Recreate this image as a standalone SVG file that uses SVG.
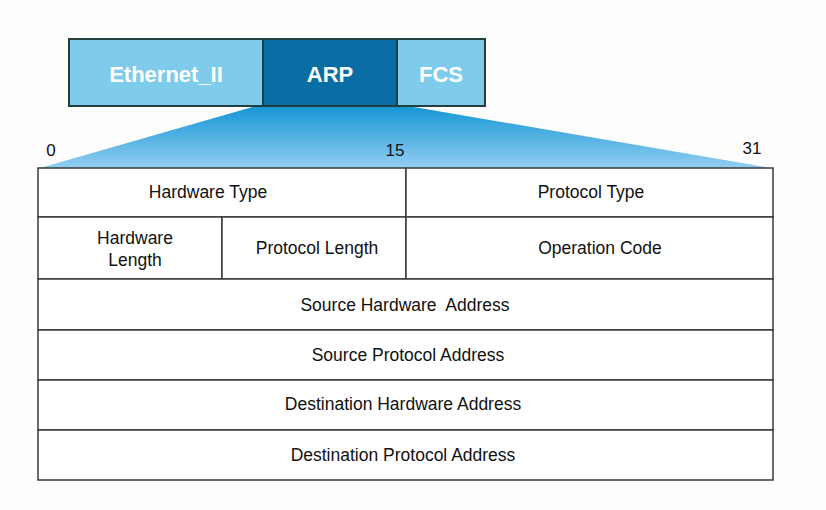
<svg xmlns="http://www.w3.org/2000/svg" width="826" height="510" viewBox="0 0 826 510">
<defs>
<linearGradient id="fan" x1="0" y1="0" x2="0" y2="1">
<stop offset="0" stop-color="#1596d4"/>
<stop offset="1" stop-color="#92cdf2"/>
</linearGradient>
<style>
.bar{stroke:#23403f;stroke-width:2}
.light{fill:#7ecbeb}
.dark{fill:#0a6da3}
.bt{font-family:"Liberation Sans",Arial,sans-serif;font-size:22px;font-weight:bold;fill:#ffffff;text-anchor:middle}
.cell{fill:#ffffff;stroke:#3a3a3a;stroke-width:1.5}
.t{font-family:"Liberation Sans",Arial,sans-serif;font-size:17.5px;fill:#111;text-anchor:middle}
.n{font-family:"Liberation Sans",Arial,sans-serif;font-size:17px;fill:#111;text-anchor:middle}
</style>
</defs>
<rect width="826" height="510" fill="#fdfdfd"/>
<g id="fan-shape">
<polygon points="256,106 408,106 771,168 40,168" fill="url(#fan)"/>
</g>
<g id="ethernet">
<rect class="bar light" x="69" y="39" width="194" height="67"/>
<text class="bt" x="166" y="82">Ethernet_II</text>
</g>
<g id="arp">
<rect class="bar dark" x="263" y="39" width="134" height="67"/>
<text class="bt" x="330" y="82">ARP</text>
</g>
<g id="fcs">
<rect class="bar light" x="397" y="39" width="88" height="67"/>
<text class="bt" x="441" y="82">FCS</text>
</g>
<g id="bits">
<text class="n" x="51" y="156">0</text>
<text class="n" x="395" y="156">15</text>
<text class="n" x="752" y="154">31</text>
</g>
<g id="hardware-type"><rect class="cell" x="38" y="168" width="368" height="49"/><text class="t" x="208" y="198">Hardware Type</text></g>
<g id="protocol-type"><rect class="cell" x="406" y="168" width="367" height="49"/><text class="t" x="591" y="198">Protocol Type</text></g>
<g id="hardware-length"><rect class="cell" x="38" y="217" width="184" height="62"/><text class="t" x="135" y="244">Hardware</text><text class="t" x="135" y="266">Length</text></g>
<g id="protocol-length"><rect class="cell" x="222" y="217" width="184" height="62"/><text class="t" x="317" y="254">Protocol Length</text></g>
<g id="operation-code"><rect class="cell" x="406" y="217" width="367" height="62"/><text class="t" x="600" y="254">Operation Code</text></g>
<g id="src-hw"><rect class="cell" x="38" y="279" width="735" height="51"/><text class="t" x="405" y="311" xml:space="preserve">Source Hardware  Address</text></g>
<g id="src-proto"><rect class="cell" x="38" y="330" width="735" height="50"/><text class="t" x="408" y="361">Source Protocol Address</text></g>
<g id="dst-hw"><rect class="cell" x="38" y="380" width="735" height="50"/><text class="t" x="403" y="410">Destination Hardware Address</text></g>
<g id="dst-proto"><rect class="cell" x="38" y="430" width="735" height="50"/><text class="t" x="403" y="461">Destination Protocol Address</text></g>
<g id="connectors"></g>
</svg>
